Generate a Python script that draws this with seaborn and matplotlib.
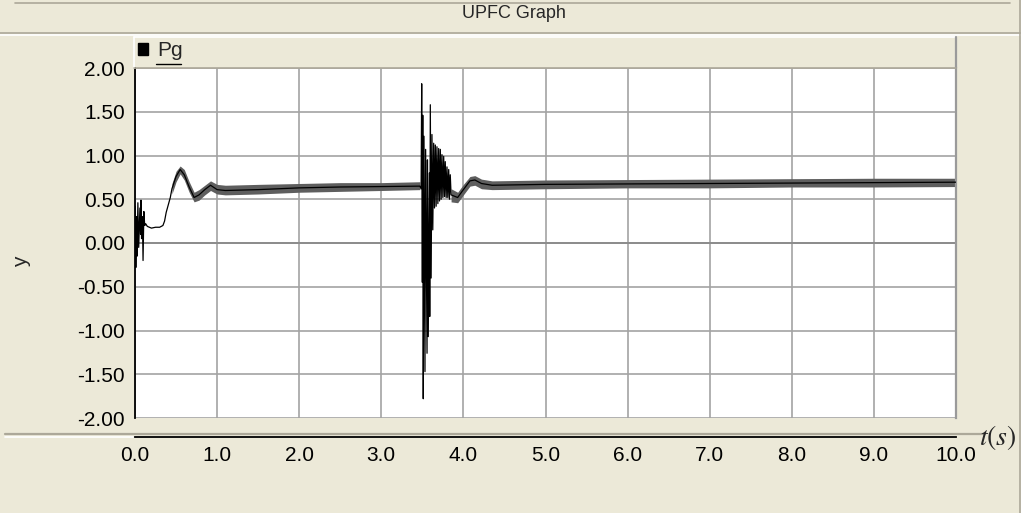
import numpy as np
import pandas as pd
import matplotlib
matplotlib.use('Agg')
import matplotlib.pyplot as plt
from matplotlib.lines import Line2D
from matplotlib.patches import Patch
import seaborn as sns

# start-up part (0 .. 0.43 s)
t_start = [0.000, 0.004, 0.010, 0.018, 0.025, 0.035, 0.045, 0.060, 0.068, 0.073, 0.080,
           0.090, 0.098, 0.108, 0.118, 0.130, 0.150, 0.200, 0.250, 0.300, 0.340, 0.360,
           0.380, 0.430]
p_start = [-0.05, 0.42, -0.28, 0.30, -0.15, 0.46, -0.05, 0.40, 0.10, 0.49, 0.05,
           0.30, -0.20, 0.36, 0.20, 0.22, 0.19, 0.17, 0.18, 0.18, 0.20, 0.25,
           0.35, 0.52]

# ripple band before the fault (lower edge / centre / upper edge)
t_band1 = [0.45, 0.50, 0.55, 0.60, 0.66, 0.72, 0.78, 0.85, 0.92, 1.00, 1.10, 1.50, 2.00, 2.50, 3.00, 3.47]
lo_band1 = [0.56, 0.70, 0.79, 0.72, 0.58, 0.47, 0.49, 0.55, 0.60, 0.56, 0.55, 0.56, 0.58, 0.59, 0.60, 0.61]
mid_band1 = [0.62, 0.76, 0.84, 0.78, 0.64, 0.52, 0.55, 0.61, 0.66, 0.61, 0.60, 0.61, 0.63, 0.64, 0.645, 0.65]
hi_band1 = [0.68, 0.82, 0.88, 0.84, 0.70, 0.58, 0.61, 0.66, 0.71, 0.67, 0.66, 0.67, 0.68, 0.69, 0.69, 0.70]

# fault transient around 3.5 s
t_fault = [3.485, 3.492, 3.500, 3.505, 3.511, 3.520, 3.532, 3.540, 3.557, 3.562, 3.572,
           3.585, 3.590, 3.597, 3.607, 3.617, 3.627, 3.638, 3.648, 3.658, 3.668, 3.678,
           3.689, 3.699, 3.709, 3.719, 3.729, 3.739, 3.750, 3.760, 3.770, 3.779, 3.790,
           3.800, 3.810, 3.821, 3.830, 3.840]
p_fault = [0.62, 1.82, -0.45, 1.46, -1.78, 1.22, -1.47, 1.07, -1.26, 0.95, -1.07,
           0.80, -0.84, 1.58, -0.40, 1.24, 0.15, 1.14, 0.40, 1.12, 0.42, 1.10,
           0.45, 1.08, 0.48, 1.07, 0.50, 1.01, 0.52, 0.99, 0.53, 0.93, 0.52,
           0.87, 0.52, 0.84, 0.50, 0.78]

# ripple band after the fault
t_band2 = [3.85, 3.93, 4.00, 4.08, 4.14, 4.22, 4.35, 5.00, 6.00, 7.00, 8.00, 9.00, 10.00]
lo_band2 = [0.47, 0.46, 0.55, 0.65, 0.66, 0.62, 0.61, 0.62, 0.63, 0.63, 0.64, 0.64, 0.645]
mid_band2 = [0.55, 0.52, 0.61, 0.71, 0.72, 0.68, 0.66, 0.67, 0.675, 0.68, 0.685, 0.69, 0.695]
hi_band2 = [0.62, 0.58, 0.67, 0.76, 0.77, 0.73, 0.71, 0.72, 0.725, 0.73, 0.735, 0.74, 0.74]

x_ticks = np.arange(0, 11, 1.0)
y_ticks = np.arange(-2.0, 2.01, 0.5)

BG = '#ECE9D8'
EDGE = '#ACA899'
W, H = 1021, 513

sns.set_style('white')
plt.rcParams['font.family'] = ['Liberation Sans', 'DejaVu Sans']
plt.rcParams['mathtext.fontset'] = 'stix'

fig = plt.figure(figsize=(W / 100, H / 100), dpi=100, facecolor=BG)
ax = fig.add_axes([135 / W, 1 - 418 / H, 821 / W, 350 / H])
ax.set_facecolor('white')

df = pd.DataFrame({
    't': t_start + t_band1 + t_fault + t_band2,
    'Pg': p_start + mid_band1 + p_fault + mid_band2,
})

ax.fill_between(t_band1, lo_band1, hi_band1, color='#5e5e5e', lw=0, zorder=2)
ax.fill_between(t_band2, lo_band2, hi_band2, color='#5e5e5e', lw=0, zorder=2)
sns.lineplot(data=df, x='t', y='Pg', ax=ax, color='black', lw=0.9,
             estimator=None, sort=False, legend=False, zorder=3)

ax.set_xlim(0, 10)
ax.set_ylim(-2, 2)
ax.set_xticks(x_ticks)
ax.set_xticklabels([f'{v:.1f}' for v in x_ticks])
ax.set_yticks(y_ticks)
ax.set_yticklabels([f'{v:.2f}' for v in y_ticks])
ax.set_xlabel('')
ax.set_ylabel('')
ax.grid(True, color='#a3a3a3', lw=1.2)
ax.axhline(0, color='#8a8a8a', lw=1.3, zorder=1)
ax.set_axisbelow(True)

ax.spines['top'].set_visible(False)
ax.spines['right'].set_color('#9a9a9a')
ax.spines['right'].set_linewidth(1.6)
ax.spines['left'].set_color('black')
ax.spines['left'].set_linewidth(1.3)
ax.spines['bottom'].set_color('black')
ax.spines['bottom'].set_linewidth(1.3)
ax.spines['bottom'].set_position(('outward', 14))
ax.tick_params(axis='both', direction='out', length=4.3, width=1.2, color='black',
               labelsize=15, labelcolor='black')
ax.tick_params(axis='x', pad=2)
ax.tick_params(axis='y', pad=3)

# frame lines of the panel
def hline(y, x0, x1, c, lw=1.2):
    fig.add_artist(Line2D([x0 / W, x1 / W], [1 - y / H, 1 - y / H], color=c, lw=lw))

def vline(x, y0, y1, c, lw=1.2):
    fig.add_artist(Line2D([x / W, x / W], [1 - y0 / H, 1 - y1 / H], color=c, lw=lw))

hline(3, 15, 1010, EDGE)
hline(33, 0, 1021, EDGE)
hline(35, 0, 1021, 'white')
hline(36.5, 134, 956, 'white')
vline(134, 36.5, 68, 'white')
vline(956, 36.5, 68, '#9a9a9a', 1.6)
hline(67.5, 134, 956, EDGE)
hline(434, 5, 985, EDGE, 1.6)
hline(436.5, 5, 133, 'white')
vline(1019.5, 0, 513, EDGE)

fig.text(0.503, 1 - 14 / H, 'UPFC Graph', ha='center', va='center', fontsize=13)
fig.text(22 / W, 1 - 262 / H, 'y', rotation=90, ha='center', va='center', fontsize=15)
fig.text(998 / W, 1 - 437 / H, r'$t(s)$', ha='center', va='center', fontsize=20)

leg = fig.legend(handles=[Patch(color='black', label='Pg')], loc='center left',
                 bbox_to_anchor=(138 / W, 1 - 51 / H), frameon=False,
                 handlelength=0.5, handleheight=0.5, handletextpad=0.4,
                 borderpad=0, borderaxespad=0, fontsize=15)
hline(64, 156, 181, 'black', 1.0)

fig.savefig('out.png', dpi=100, facecolor=BG)
